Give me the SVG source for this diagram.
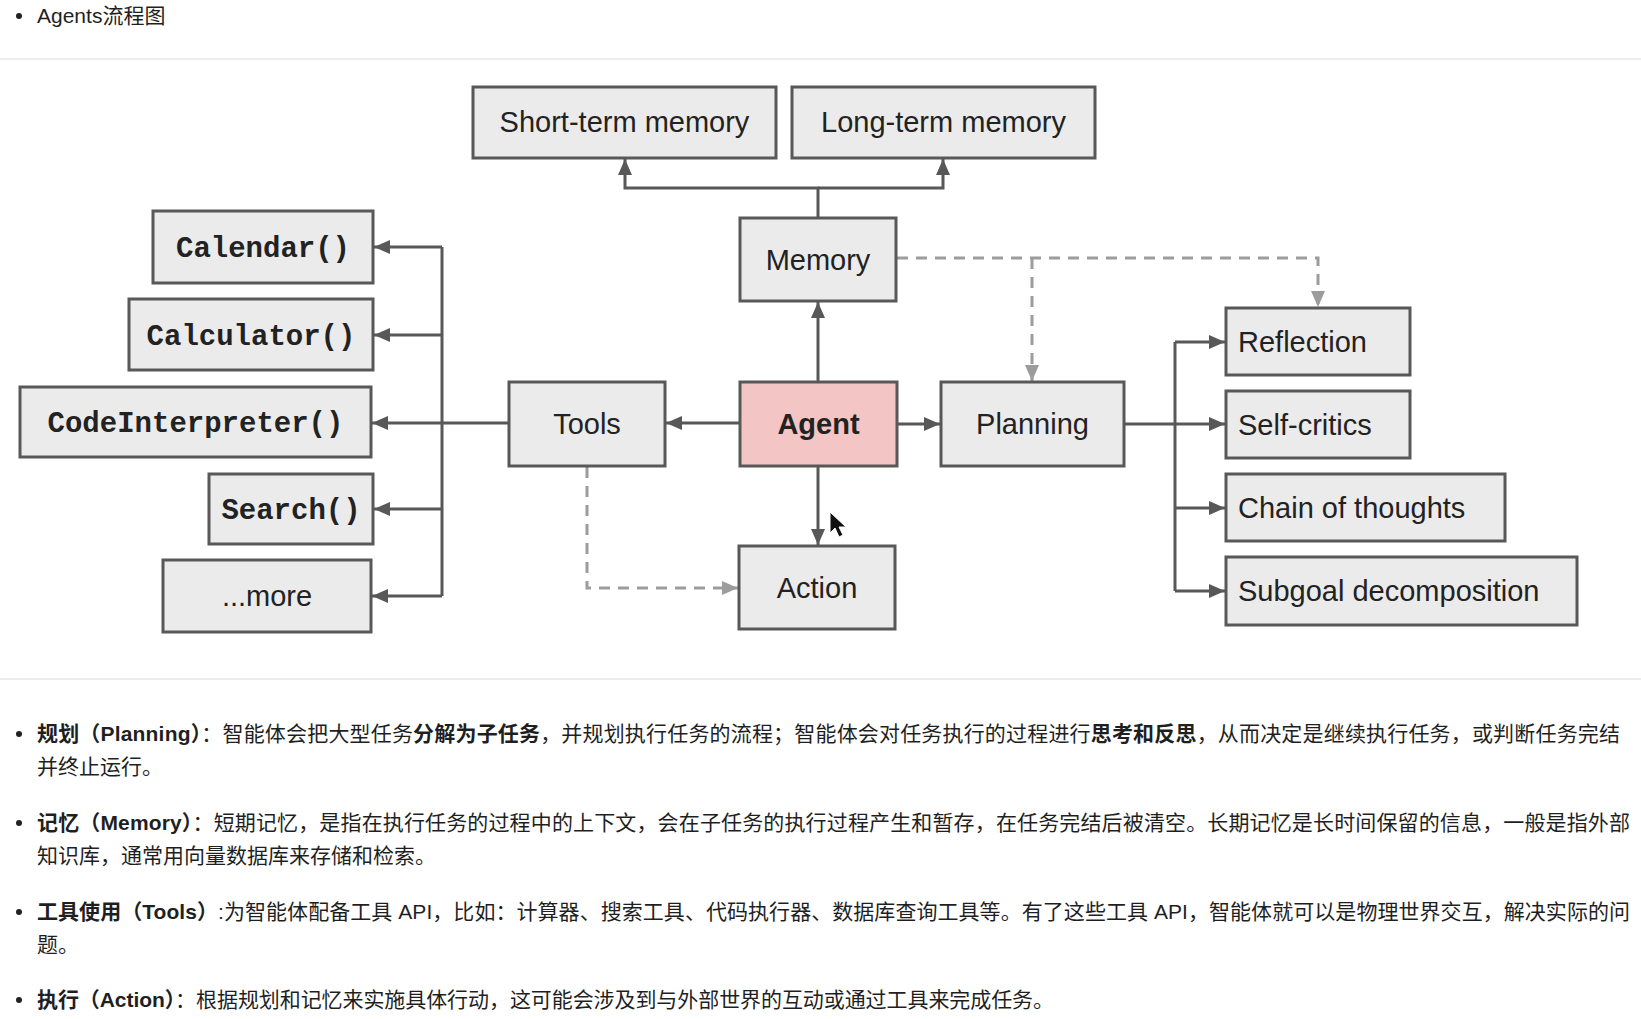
<svg xmlns="http://www.w3.org/2000/svg" width="1641" height="1019" viewBox="0 0 1641 1019">
<defs>
<style>
.box{fill:#ebebeb;stroke:#585858;stroke-width:3}
.agent{fill:#f3c5c5;stroke:#585858;stroke-width:3}
.lbl{font-family:"Liberation Sans",Arial,sans-serif;font-size:29px;fill:#222}
.mono{font-family:"Liberation Mono","Courier New",monospace;font-size:29px;font-weight:bold;fill:#222}
.conn{fill:none;stroke:#585858;stroke-width:3}
.dash{fill:none;stroke:#9c9c9c;stroke-width:3;stroke-dasharray:11 8}
.body{font-family:"Liberation Sans","Noto Sans CJK SC",sans-serif;font-size:21px;fill:#1f1f1f}
.b{font-weight:bold}
</style>
<marker id="arr" markerUnits="userSpaceOnUse" markerWidth="17" markerHeight="14" refX="16" refY="7" orient="auto">
<path d="M0,0 L16,7 L0,14 z" fill="#585858"/>
</marker>
<marker id="arrd" markerUnits="userSpaceOnUse" markerWidth="17" markerHeight="14" refX="16" refY="7" orient="auto">
<path d="M0,0 L16,7 L0,14 z" fill="#9c9c9c"/>
</marker>
</defs>
<rect width="1641" height="1019" fill="#ffffff"/>
<circle cx="19" cy="16" r="3" fill="#222"/>
<text class="body" x="37" y="23" style="font-size:21px">Agents流程图</text>
<line x1="0" y1="59" x2="1641" y2="59" stroke="#ececec" stroke-width="2"/>
<line x1="0" y1="679" x2="1641" y2="679" stroke="#ececec" stroke-width="2"/>

<g id="connectors">
<path class="conn" d="M818,218 V188 H625 V159" marker-end="url(#arr)"/>
<path class="conn" d="M818,188 H943 V159" marker-end="url(#arr)"/>
<path class="conn" d="M818,382 V302" marker-end="url(#arr)"/>
<path class="conn" d="M740,423 H666" marker-end="url(#arr)"/>
<path class="conn" d="M897,424 H940" marker-end="url(#arr)"/>
<path class="conn" d="M818,466 V545" marker-end="url(#arr)"/>
<path class="conn" d="M442,247 V596"/>
<path class="conn" d="M442,247 H374" marker-end="url(#arr)"/>
<path class="conn" d="M442,335 H374" marker-end="url(#arr)"/>
<path class="conn" d="M509,423 H372" marker-end="url(#arr)"/>
<path class="conn" d="M442,509 H374" marker-end="url(#arr)"/>
<path class="conn" d="M442,596 H372" marker-end="url(#arr)"/>
<path class="conn" d="M1124,424 H1225" marker-end="url(#arr)"/>
<path class="conn" d="M1175,342 V591"/>
<path class="conn" d="M1175,342 H1225" marker-end="url(#arr)"/>
<path class="conn" d="M1175,508 H1225" marker-end="url(#arr)"/>
<path class="conn" d="M1175,591 H1225" marker-end="url(#arr)"/>
<path class="dash" d="M897,258 H1318 V307" marker-end="url(#arrd)"/>
<path class="dash" d="M1032,258 V381" marker-end="url(#arrd)"/>
<path class="dash" d="M587,467 V588 H738" marker-end="url(#arrd)"/>
</g>

<g id="short-term-memory"><rect class="box" x="473" y="87" width="303" height="71"/><text class="lbl" x="624.5" y="132" text-anchor="middle">Short-term memory</text></g>
<g id="long-term-memory"><rect class="box" x="792" y="87" width="303" height="71"/><text class="lbl" x="943.5" y="132" text-anchor="middle">Long-term memory</text></g>
<g id="memory"><rect class="box" x="740" y="218" width="156" height="83"/><text class="lbl" x="818" y="270" text-anchor="middle">Memory</text></g>
<g id="calendar"><rect class="box" x="153" y="211" width="220" height="72"/><text class="mono" x="263" y="257" text-anchor="middle">Calendar()</text></g>
<g id="calculator"><rect class="box" x="129" y="299" width="244" height="71"/><text class="mono" x="251" y="345" text-anchor="middle">Calculator()</text></g>
<g id="codeinterpreter"><rect class="box" x="20" y="387" width="351" height="70"/><text class="mono" x="195.5" y="432" text-anchor="middle">CodeInterpreter()</text></g>
<g id="search"><rect class="box" x="209" y="474" width="164" height="70"/><text class="mono" x="291" y="519" text-anchor="middle">Search()</text></g>
<g id="more"><rect class="box" x="163" y="560" width="208" height="72"/><text class="lbl" x="267" y="606" text-anchor="middle">...more</text></g>
<g id="tools"><rect class="box" x="509" y="382" width="156" height="84"/><text class="lbl" x="587" y="434" text-anchor="middle">Tools</text></g>
<g id="agent"><rect class="agent" x="740" y="382" width="157" height="84"/><text class="lbl" x="818.5" y="434" text-anchor="middle" font-weight="bold">Agent</text></g>
<g id="action"><rect class="box" x="739" y="546" width="156" height="83"/><text class="lbl" x="817" y="598" text-anchor="middle">Action</text></g>
<g id="planning"><rect class="box" x="941" y="382" width="183" height="84"/><text class="lbl" x="1032.5" y="434" text-anchor="middle">Planning</text></g>
<g id="reflection"><rect class="box" x="1226" y="308" width="184" height="67"/><text class="lbl" x="1238" y="352">Reflection</text></g>
<g id="self-critics"><rect class="box" x="1226" y="391" width="184" height="67"/><text class="lbl" x="1238" y="435">Self-critics</text></g>
<g id="chain-of-thoughts"><rect class="box" x="1226" y="474" width="279" height="67"/><text class="lbl" x="1238" y="518">Chain of thoughts</text></g>
<g id="subgoal-decomposition"><rect class="box" x="1226" y="557" width="351" height="68"/><text class="lbl" x="1238" y="601">Subgoal decomposition</text></g>

<path d="M830,512 L830,533 L835,528 L839,537 L843,535 L839,527 L846,527 Z" fill="#111" stroke="#fff" stroke-width="1"/>

<g id="notes">
<circle cx="19" cy="734" r="3" fill="#222"/>
<text class="body" x="37" y="741" textLength="1583" lengthAdjust="spacing"><tspan class="b">规划（Planning）</tspan>：智能体会把大型任务<tspan class="b">分解为子任务</tspan>，并规划执行任务的流程；智能体会对任务执行的过程进行<tspan class="b">思考和反思</tspan>，从而决定是继续执行任务，或判断任务完结</text>
<text class="body" x="37" y="774">并终止运行。</text>
<circle cx="19" cy="823" r="3" fill="#222"/>
<text class="body" x="37" y="830" textLength="1593" lengthAdjust="spacing"><tspan class="b">记忆（Memory）</tspan>：短期记忆，是指在执行任务的过程中的上下文，会在子任务的执行过程产生和暂存，在任务完结后被清空。长期记忆是长时间保留的信息，一般是指外部</text>
<text class="body" x="37" y="863">知识库，通常用向量数据库来存储和检索。</text>
<circle cx="19" cy="912" r="3" fill="#222"/>
<text class="body" x="37" y="919" textLength="1593" lengthAdjust="spacing"><tspan class="b">工具使用（Tools）</tspan>:为智能体配备工具 API，比如：计算器、搜索工具、代码执行器、数据库查询工具等。有了这些工具 API，智能体就可以是物理世界交互，解决实际的问</text>
<text class="body" x="37" y="952">题。</text>
<circle cx="19" cy="1000" r="3" fill="#222"/>
<text class="body" x="37" y="1007" textLength="1017" lengthAdjust="spacing"><tspan class="b">执行（Action）</tspan>：根据规划和记忆来实施具体行动，这可能会涉及到与外部世界的互动或通过工具来完成任务。</text>
</g>
</svg>
